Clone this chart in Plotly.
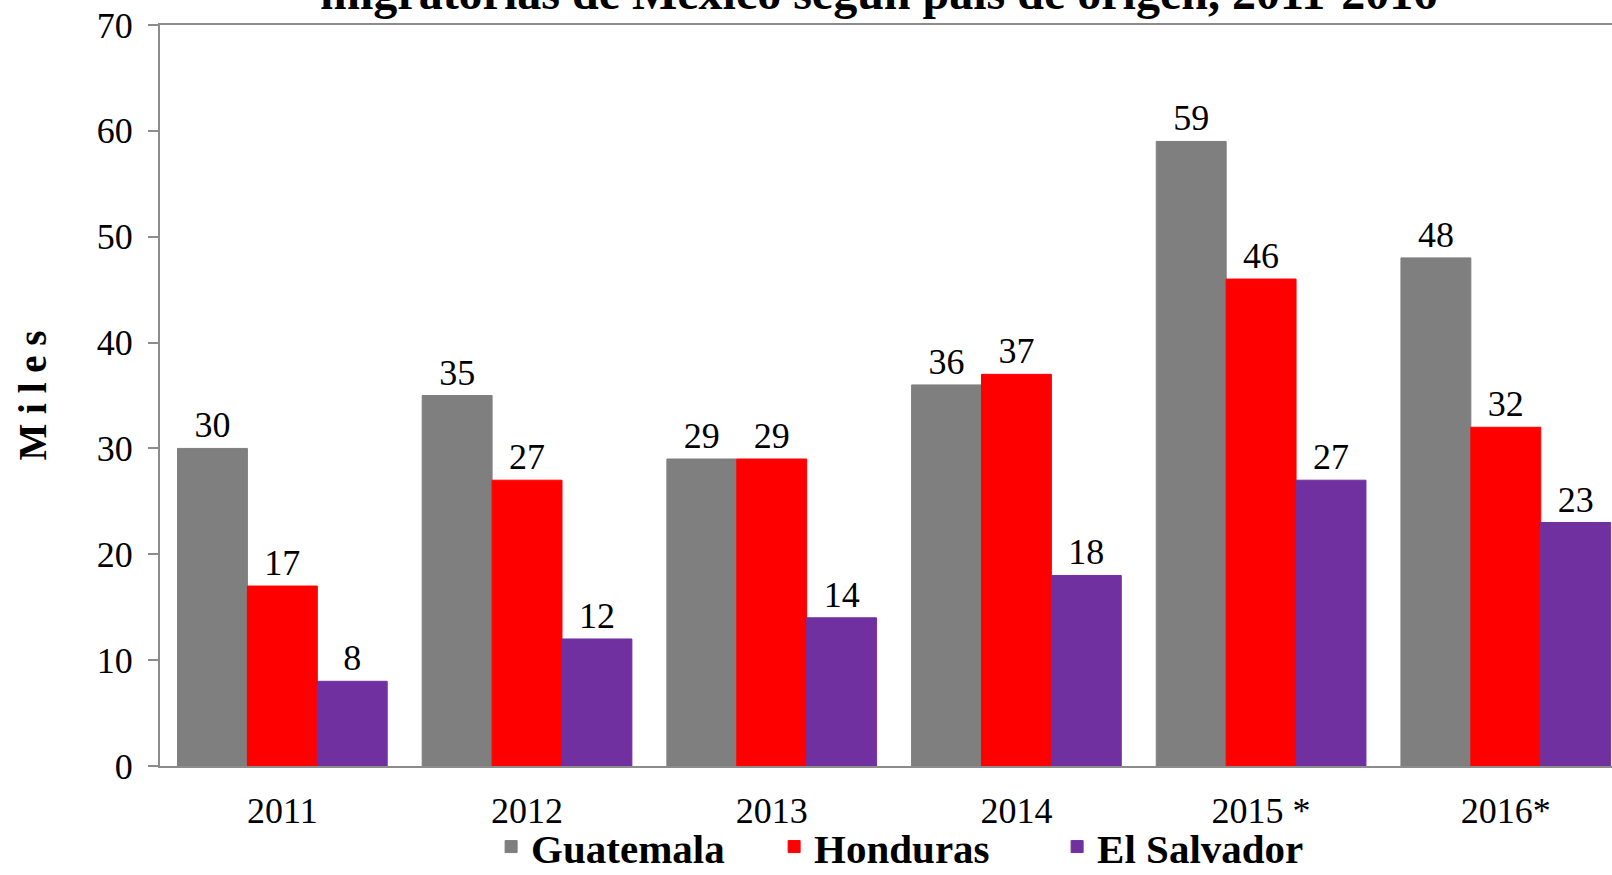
import plotly.graph_objects as go

years = ["2011", "2012", "2013", "2014", "2015 *", "2016*"]
guatemala = [30, 35, 29, 36, 59, 48]
honduras = [17, 27, 29, 37, 46, 32]
el_salvador = [8, 12, 14, 18, 27, 23]

series = [
    ("Guatemala", guatemala, "#7F7F7F"),
    ("Honduras", honduras, "#FF0000"),
    ("El Salvador", el_salvador, "#7030A0"),
]

FONT = "Liberation Serif, Times New Roman, serif"

fig = go.Figure()
for name, vals, col in series:
    fig.add_trace(go.Bar(
        x=years, y=vals, name=name,
        marker=dict(color=col, line=dict(color=col, width=1)),
        text=vals, textposition="outside", cliponaxis=False,
        textfont=dict(family=FONT, size=36, color="black"),
    ))

fig.update_layout(
    width=1612, height=875,
    barmode="group", bargap=0.143, bargroupgap=0,
    paper_bgcolor="white", plot_bgcolor="white",
    margin=dict(l=160, r=0, t=25, b=109, autoexpand=False),
    font=dict(family=FONT, size=36, color="black"),
    showlegend=True,
    legend=dict(
        orientation="h", xref="container", yref="paper",
        x=0.568, xanchor="center", y=-0.064, yanchor="top",
        font=dict(family=FONT, size=41, color="black", weight="bold"),
        entrywidth=238, bgcolor="rgba(0,0,0,0)",
    ),
    xaxis=dict(
        range=[-0.5, 5.434], showline=True, linecolor="#8C8C8C", linewidth=2,
        mirror=True, ticks="", showgrid=False, automargin=False,
        ticklabelstandoff=12,
        tickfont=dict(family=FONT, size=36, color="black"),
    ),
    yaxis=dict(
        range=[0, 70], dtick=10, showline=True, linecolor="#8C8C8C", linewidth=2,
        ticks="outside", ticklen=10, tickcolor="#8C8C8C", tickwidth=2,
        showgrid=False, zeroline=False, automargin=False,
        ticklabelstandoff=8,
        tickfont=dict(family=FONT, size=36, color="black"),
        title=dict(text="M i l e s", standoff=38,
                   font=dict(family=FONT, size=39, color="black", weight="bold")),
    ),
    annotations=[dict(
        text="migratorias de México según país de origen, 2011-2016",
        xref="paper", yref="paper", x=0.495, y=1.044, xanchor="center", yanchor="middle",
        showarrow=False, font=dict(family=FONT, size=48, color="black", weight="bold"),
    )],
)

fig.write_html("out.html", config={"displayModeBar": False},
               post_script="document.body.style.margin='0';")
